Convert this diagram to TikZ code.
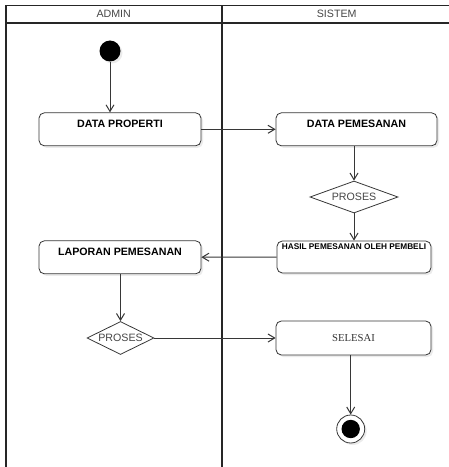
\documentclass[tikz,border=0pt]{standalone}
\usepackage{fontspec}
\setmainfont{Liberation Sans}
\newfontfamily\selserif{Liberation Serif}
\usetikzlibrary{arrows.meta,shapes.geometric,shadows}

\definecolor{lineclr}{RGB}{55,55,55}
\definecolor{txtclr}{RGB}{70,70,70}

\tikzset{
        % swimlane frame
        lane/.style={draw=black!85, line width=1.2pt},
        % rounded action box, text sits near the top
        actbox/.style={rectangle, rounded corners=4pt, draw=lineclr, fill=white,
            line width=0.6pt, inner ysep=0pt,
            font=\bfseries\fontsize{8}{9}\selectfont,
            drop shadow={shadow xshift=1.5pt, shadow yshift=-1.5pt, fill=black, opacity=0.08}},
        decide/.style={diamond, draw=lineclr, fill=white, line width=0.6pt, inner sep=0pt,
            text=txtclr, font=\fontsize{8}{9}\selectfont},
        flow/.style={draw=lineclr, line width=0.75pt, -{Straight Barb[length=5pt,width=6pt]}},
        lanehead/.style={text=txtclr, font=\fontsize{8}{9}\selectfont}
    }

\begin{document}
\begin{tikzpicture}[x=0.75pt,y=0.75pt,yscale=-1]
\useasboundingbox (0,0) rectangle (449,467);
\clip (0,0) rectangle (449,467);

%Shape: Swimlanes
\draw[lane] (5.8,5.5) rectangle (451.7,520);
\draw[lane] (5.8,23) -- (451.7,23);
\draw[lane] (221.7,5.5) -- (221.7,520);

% Text Node
\node[lanehead] (admin) at (113.7,13.7) {ADMIN};
% Text Node
\node[lanehead] (sistem) at (336.7,13.7) {SISTEM};

%Shape: Initial node
\node[circle, fill=black, minimum size=15.75pt, inner sep=0pt,
      drop shadow={shadow xshift=1.5pt, shadow yshift=-1.5pt, fill=black, opacity=0.08}] (start) at (110,51) {};

%Shape: Actions
\node[actbox, minimum width=121.5pt, text height=11pt, text depth=13.75pt] (dataprop) at (120,129.3) {DATA PROPERTI};
\node[actbox, minimum width=120.75pt, text height=11pt, text depth=13.75pt] (datapesan) at (356.5,129.3) {DATA PEMESANAN};
\node[decide, minimum width=66pt, minimum height=24pt] (proses1) at (354,197) {\makebox[0pt]{PROSES}};
\node[actbox, minimum width=115.5pt, text height=6pt, text depth=18pt,
      font=\bfseries\fontsize{6.2}{7}\selectfont] (hasil) at (354,257) {HASIL PEMESANAN OLEH PEMBELI};
\node[actbox, minimum width=121.5pt, text height=10.7pt, text depth=14.05pt] (laporan) at (120,257.3) {LAPORAN PEMESANAN};
\node[decide, minimum width=50.25pt, minimum height=24.75pt] (proses2) at (120.5,338) {\makebox[0pt]{PROSES}};
\node[actbox, minimum width=116.25pt, text height=15pt, text depth=10.5pt,
      font=\selserif\fontsize{8}{9}\selectfont, text=black!80] (selesai) at (353.5,338) {SELESAI};

%Shape: Final node
\node[circle, draw=lineclr, fill=white, line width=0.6pt, minimum size=21pt, inner sep=0pt,
      drop shadow={shadow xshift=1.5pt, shadow yshift=-1.5pt, fill=black, opacity=0.08}] (finish) at (350.7,429) {};
\node[circle, fill=black, minimum size=13.75pt, inner sep=0pt] (finishdot) at (finish) {};

%Straight Lines
\draw[flow] (start) -- (start |- dataprop.north);
\draw[flow] (dataprop) -- (datapesan);
\draw[flow] (datapesan.south -| proses1) -- (proses1.north);
\draw[flow] (proses1) -- (hasil);
\draw[flow] (hasil) -- (laporan);
\draw[flow] (laporan.south -| proses2) -- (proses2.north);
\draw[flow] (proses2) -- (proses2 -| selesai.west);
\draw[flow] (finish |- selesai.south) -- (finish);

\end{tikzpicture}
\end{document}
